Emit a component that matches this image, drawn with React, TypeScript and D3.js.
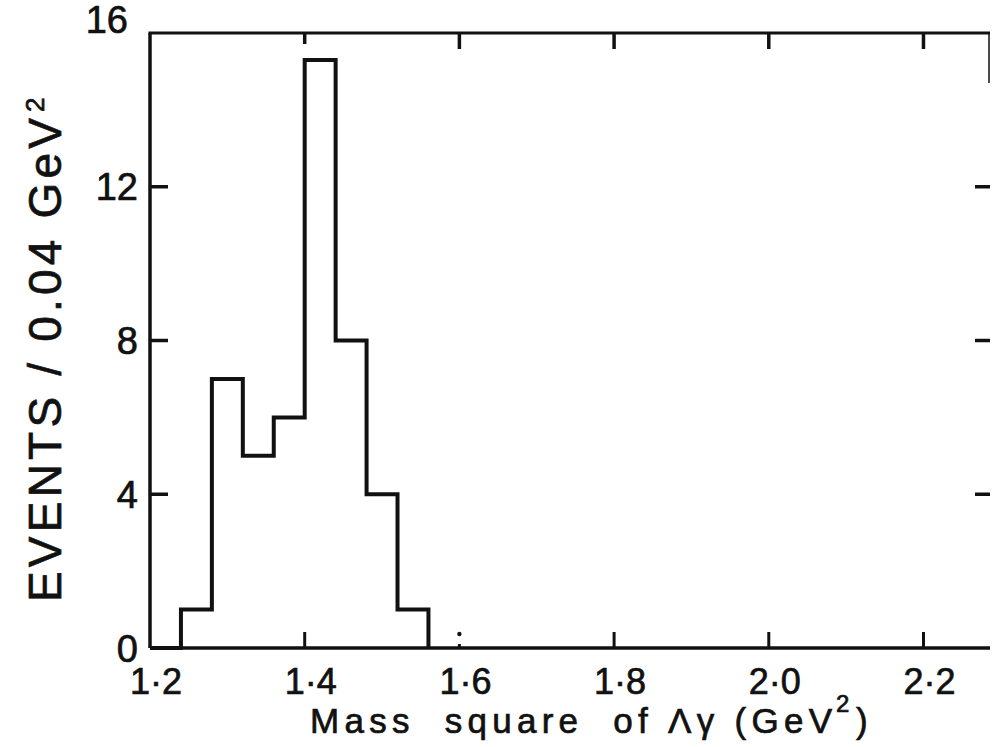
import React from 'react';
import * as d3 from 'd3';

const binEdges = [1.20, 1.24, 1.28, 1.32, 1.36, 1.40, 1.44, 1.48, 1.52, 1.56];
const binCounts = [0, 1, 7, 5, 6, 15.3, 8, 4, 1];
const yTicks = [0, 4, 8, 12, 16];
const yTickLabels = ['0', '4', '8', '12', '16'];
const xTicks = [1.2, 1.4, 1.6, 1.8, 2.0, 2.2];
const xTickLabels = ['1·2', '1·4', '1·6', '1·8', '2·0', '2·2'];
const yTitle = 'EVENTS / 0.04 GeV';
const xTitle = 'Mass  square  of Λγ (GeV';

const W = 993;
const H = 747;
const FONT = '"Liberation Sans", Arial, sans-serif';

export default function App() {
  const x = d3.scaleLinear().domain([1.2, 2.286]).range([150, 990]);
  const y = d3.scaleLinear().domain([0, 16]).range([648, 33]);

  const pts: [number, number][] = binCounts.map((c, i) => [binEdges[i], c]);
  pts.push([binEdges[binEdges.length - 1], 0]);
  const line = d3
    .line<[number, number]>()
    .x((d) => x(d[0]))
    .y((d) => y(d[1]))
    .curve(d3.curveStepAfter);

  const x0 = x.range()[0];
  const x1 = x.range()[1];
  const yB = y(0);
  const yT = y(16);
  const ink = '#111';
  const textStroke = { stroke: ink, strokeWidth: 0.7 };

  return (
    <svg
      width={W}
      height={H}
      style={{ position: 'absolute', left: 0, top: 0, background: '#fff' }}
    >
      <rect x={0} y={0} width={W} height={H} fill="#fff" />
      {/* frame */}
      <line x1={x0} y1={yB} x2={x0} y2={yT} stroke={ink} strokeWidth={3.5} />
      <line x1={x0} y1={yB} x2={x1} y2={yB} stroke={ink} strokeWidth={3.5} />
      <line x1={x0 - 1.5} y1={yT} x2={x1} y2={yT} stroke={ink} strokeWidth={3} />
      <line x1={x1 - 1} y1={yT} x2={x1 - 1} y2={yT + 50} stroke={ink} strokeWidth={1.5} />

      {/* y ticks left & right */}
      {yTicks.filter((t) => t > 0 && t < 16).map((t) => (
        <g key={'yt' + t}>
          <line x1={x0} x2={x0 + 18} y1={y(t)} y2={y(t)} stroke={ink} strokeWidth={3.5} />
          <line x1={x1 - 15} x2={x1} y1={y(t)} y2={y(t)} stroke={ink} strokeWidth={3.5} />
        </g>
      ))}

      {/* x ticks bottom & top */}
      {xTicks.filter((t) => t > 1.2).map((t) => {
        const isDot = Math.abs(t - 1.6) < 1e-6;
        return (
          <g key={'xt' + t}>
            <line x1={x(t)} x2={x(t)} y1={yB} y2={yB - (isDot ? 4 : 16)} stroke={ink} strokeWidth={3} />
            {isDot && <circle cx={x(t)} cy={yB - 14} r={2.2} fill={ink} />}
            <line x1={x(t)} x2={x(t)} y1={yT} y2={yT + (Math.abs(t - 1.4) < 1e-6 ? 11 : 16)} stroke={ink} strokeWidth={3.5} />
          </g>
        );
      })}

      {/* histogram */}
      <path d={line(pts) || ''} fill="none" stroke={ink} strokeWidth={4} strokeLinejoin="miter" />

      {/* y tick labels */}
      {yTicks.map((t, i) => (
        <text
          key={'yl' + t}
          x={t === 16 ? 128 : 138}
          y={t === 16 ? y(t) - 14 : y(t)}
          dy="0.36em"
          textAnchor="end"
          fontFamily={FONT}
          fontSize={38}
          fill={ink}
          {...textStroke}
        >
          {yTickLabels[i]}
        </text>
      ))}

      {/* x tick labels */}
      {xTicks.map((t, i) => (
        <text
          key={'xl' + t}
          x={x(t) + 6}
          y={694}
          textAnchor="middle"
          fontFamily={FONT}
          fontSize={36}
          fill={ink}
          {...textStroke}
        >
          {xTickLabels[i]}
        </text>
      ))}

      {/* x title */}
      <text
        x={310}
        y={733}
        fontFamily={FONT}
        fontSize={35}
        fill={ink}
        textLength={522}
        lengthAdjust="spacing"
        style={{ whiteSpace: 'pre' }}
        {...textStroke}
      >
        {xTitle}
      </text>
      <text x={836} y={712} fontFamily={FONT} fontSize={24} fill={ink} {...textStroke}>2</text>
      <text x={856} y={733} fontFamily={FONT} fontSize={35} fill={ink} {...textStroke}>)</text>

      {/* y title */}
      <text
        transform="translate(61,602) rotate(-90)"
        fontFamily={FONT}
        fontSize={46}
        fill={ink}
        textLength={484}
        lengthAdjust="spacing"
        style={{ whiteSpace: 'pre' }}
        {...textStroke}
      >
        {yTitle}
      </text>
      <text transform="translate(44,112) rotate(-90)" fontFamily={FONT} fontSize={26} fill={ink} {...textStroke}>2</text>
    </svg>
  );
}
